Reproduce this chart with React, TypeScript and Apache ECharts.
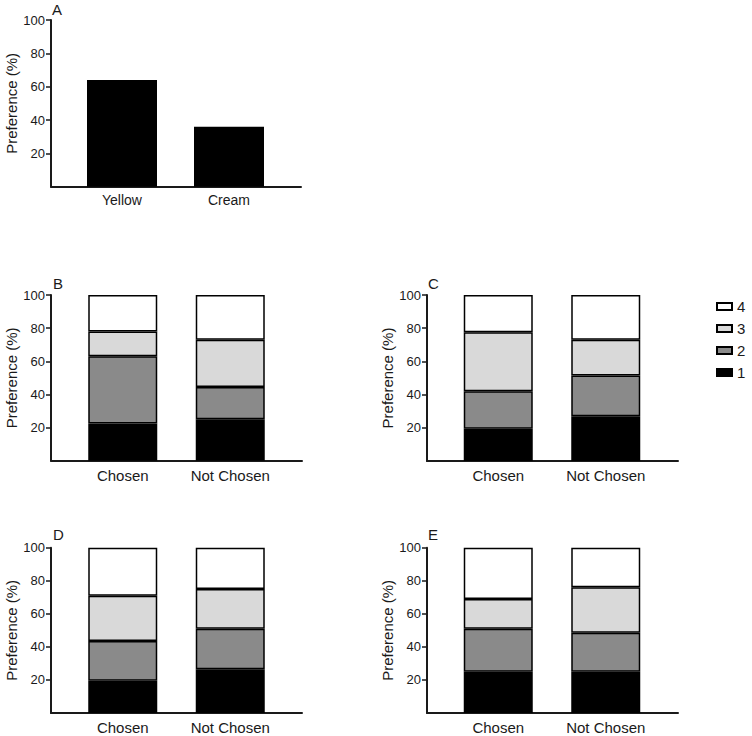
import React, { useEffect, useRef } from "react";
import * as echarts from "echarts";

// ---------- data ----------
const colourCategories = ["Yellow", "Cream"];
const colourPreference = [64, 36];

const choiceCategories = ["Chosen", "Not Chosen"];
const levelNames = ["1", "2", "3", "4"];
const yTicks = [20, 40, 60, 80, 100];

// each row = one level, values for [Chosen, Not Chosen]
const panelB = [
  [22.5, 25],
  [40.5, 19.5],
  [15, 28.5],
  [22, 27],
];
const panelC = [
  [19.5, 27],
  [22.5, 24.5],
  [35.5, 21.5],
  [22.5, 27],
];
const panelD = [
  [19.5, 26.5],
  [24, 24.5],
  [27.5, 24],
  [29, 25],
];
const panelE = [
  [25, 25],
  [26, 23.5],
  [18, 27.5],
  [31, 24],
];

// ---------- styles / layout ----------
const FONT = "'Liberation Sans', Arial, Helvetica, sans-serif";
const levelFill = ["#000000", "#8a8a8a", "#d9d9d9", "#ffffff"];
const INK = "#1a1a1a";

type Layout = {
  letter: string;
  frameLeft: number;
  frameWidth: number;
  dataLeft: number;
  dataWidth: number;
  top: number;
  height: number;
  letterLeft: number;
  letterTop: number;
  labelSize: number;
  labelMargin: number;
};

const layouts: Layout[] = [
  { letter: "A", frameLeft: 51, frameWidth: 250, dataLeft: 68.5, dataWidth: 214, top: 20, height: 166.7, letterLeft: 52, letterTop: 2, labelSize: 14, labelMargin: 6 },
  { letter: "B", frameLeft: 51, frameWidth: 251, dataLeft: 69, dataWidth: 215, top: 295, height: 165.7, letterLeft: 53, letterTop: 276, labelSize: 15, labelMargin: 7 },
  { letter: "C", frameLeft: 427, frameWidth: 251, dataLeft: 444.5, dataWidth: 215, top: 295, height: 166, letterLeft: 428, letterTop: 276, labelSize: 15, labelMargin: 7 },
  { letter: "D", frameLeft: 51, frameWidth: 251, dataLeft: 69, dataWidth: 215, top: 547.7, height: 165.3, letterLeft: 53, letterTop: 527, labelSize: 15, labelMargin: 7 },
  { letter: "E", frameLeft: 427, frameWidth: 251, dataLeft: 444.5, dataWidth: 215, top: 547.7, height: 165.3, letterLeft: 428, letterTop: 527, labelSize: 15, labelMargin: 7 },
];

const stackedPanels = [panelB, panelC, panelD, panelE];

function buildOption() {
  const grid: any[] = [];
  const xAxis: any[] = [];
  const yAxis: any[] = [];
  const series: any[] = [];
  const title: any[] = [];

  layouts.forEach((L, p) => {
    const frameIdx = grid.length;
    // frame grid: visible y axis + full-length x axis line
    grid.push({ left: L.frameLeft, top: L.top, width: L.frameWidth, height: L.height });
    xAxis.push({
      gridIndex: frameIdx,
      type: "value",
      min: 0,
      max: 1,
      axisLine: { show: true, lineStyle: { color: INK, width: 2 } },
      axisTick: { show: false },
      axisLabel: { show: false },
      splitLine: { show: false },
    });
    yAxis.push({
      gridIndex: frameIdx,
      type: "value",
      min: 0,
      max: 100,
      interval: 20,
      name: "Preference (%)",
      nameLocation: "middle",
      nameGap: 30,
      nameTextStyle: { fontFamily: FONT, fontSize: 15, color: INK },
      axisLine: { show: true, lineStyle: { color: INK, width: 2 } },
      axisTick: { show: true, length: 5, customValues: yTicks, lineStyle: { color: INK, width: 1.5 } },
      axisLabel: { customValues: yTicks, margin: 6, fontFamily: FONT, fontSize: 13, color: INK },
      splitLine: { show: false },
    });

    // data grid: category axis + bars
    const dataIdx = grid.length;
    grid.push({ left: L.dataLeft, top: L.top, width: L.dataWidth, height: L.height });
    xAxis.push({
      gridIndex: dataIdx,
      type: "category",
      data: p === 0 ? colourCategories : choiceCategories,
      axisLine: { show: false },
      axisTick: { show: false },
      axisLabel: { fontFamily: FONT, fontSize: L.labelSize, color: INK, margin: L.labelMargin },
    });
    yAxis.push({
      gridIndex: dataIdx,
      type: "value",
      min: 0,
      max: 100,
      show: false,
      splitLine: { show: false },
    });

    if (p === 0) {
      series.push({
        type: "bar",
        name: "Preference",
        xAxisIndex: dataIdx,
        yAxisIndex: dataIdx,
        data: colourPreference,
        barWidth: 70,
        itemStyle: { color: "#000000" },
      });
    } else {
      const values = stackedPanels[p - 1];
      levelNames.forEach((lv, i) => {
        series.push({
          type: "bar",
          name: lv,
          stack: "panel" + L.letter,
          xAxisIndex: dataIdx,
          yAxisIndex: dataIdx,
          data: values[i],
          barWidth: 69,
          itemStyle: { color: levelFill[i], borderColor: "#000000", borderWidth: 1.5 },
        });
      });
    }

    title.push({
      text: L.letter,
      left: L.letterLeft,
      top: L.letterTop,
      padding: 0,
      textStyle: { fontFamily: FONT, fontSize: 15, fontWeight: "normal", color: INK },
    });
  });

  return {
    animation: false,
    backgroundColor: "#ffffff",
    title,
    grid,
    xAxis,
    yAxis,
    series,
    legend: {
      data: [...levelNames].reverse(),
      orient: "vertical",
      left: 711,
      top: 294,
      itemWidth: 15,
      itemHeight: 7,
      itemGap: 7,
      icon: "rect",
      selectedMode: false,
      textStyle: { fontFamily: FONT, fontSize: 15, color: INK, lineHeight: 14 },
    },
  };
}

export default function App() {
  const ref = useRef<HTMLDivElement>(null);
  useEffect(() => {
    if (!ref.current) return;
    const chart = echarts.init(ref.current, null, { renderer: "svg" });
    chart.setOption(buildOption() as any);
    return () => chart.dispose();
  }, []);
  return (
    <div
      ref={ref}
      style={{ position: "fixed", left: 0, top: 0, width: 752, height: 736, background: "#fff" }}
    />
  );
}
